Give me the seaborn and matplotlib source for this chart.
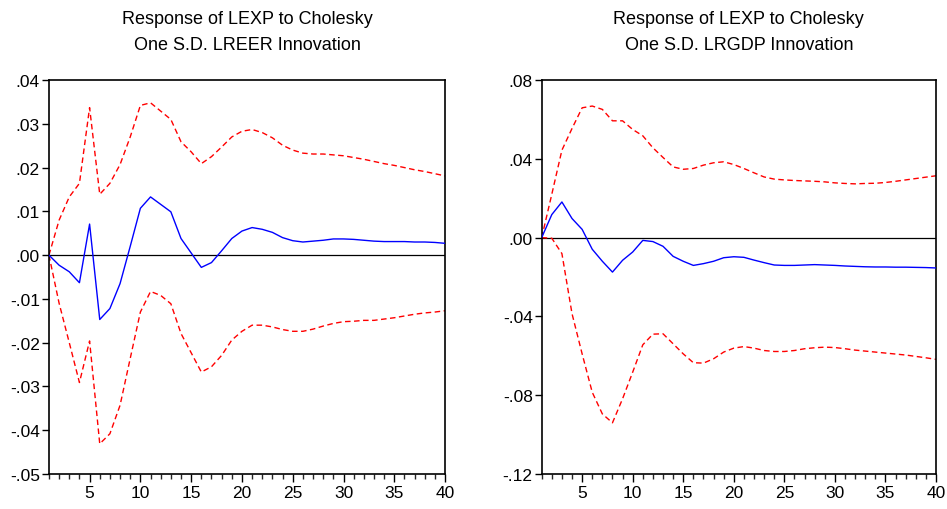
import numpy as np
import pandas as pd
import matplotlib
matplotlib.use("Agg")
import matplotlib.pyplot as plt
import seaborn as sns
from matplotlib.ticker import FuncFormatter, MultipleLocator, FixedLocator

sns.set_theme(style="white")
plt.rcParams['font.family'] = ['Liberation Sans Narrow', 'Liberation Sans', 'DejaVu Sans']

periods = list(range(1, 41))

# Left panel: LREER shock
lreer_resp = [0.0, -0.0023, -0.0038, -0.0063, 0.0071, -0.0147, -0.0122, -0.0065, 0.0020, 0.0107,
              0.0133, 0.0116, 0.0099, 0.0038, 0.0005, -0.0028, -0.0017, 0.0010, 0.0038, 0.0055,
              0.0063, 0.0059, 0.0052, 0.0040, 0.0033, 0.0030, 0.0032, 0.0034, 0.0037, 0.0037,
              0.0036, 0.0034, 0.0032, 0.0031, 0.0031, 0.0031, 0.0030, 0.0030, 0.0029, 0.0027]
lreer_upper = [0.0, 0.0080, 0.0133, 0.0164, 0.0337, 0.0139, 0.0164, 0.0207, 0.0270, 0.0342,
               0.0348, 0.0329, 0.0310, 0.0259, 0.0236, 0.0209, 0.0225, 0.0247, 0.0270, 0.0283,
               0.0287, 0.0280, 0.0268, 0.0251, 0.0240, 0.0233, 0.0231, 0.0231, 0.0229, 0.0227,
               0.0223, 0.0219, 0.0214, 0.0209, 0.0205, 0.0200, 0.0195, 0.0191, 0.0186, 0.0181]
lreer_lower = [0.0, -0.0110, -0.0200, -0.0291, -0.0196, -0.0431, -0.0408, -0.0343, -0.0236, -0.0130,
               -0.0083, -0.0092, -0.0111, -0.0179, -0.0223, -0.0267, -0.0255, -0.0229, -0.0194, -0.0174,
               -0.0160, -0.0160, -0.0164, -0.0170, -0.0174, -0.0174, -0.0169, -0.0162, -0.0156, -0.0152,
               -0.0151, -0.0149, -0.0149, -0.0146, -0.0143, -0.0139, -0.0135, -0.0132, -0.0130, -0.0127]

# Right panel: LRGDP shock
lrgdp_resp = [0.0, 0.0117, 0.0181, 0.0097, 0.0042, -0.0059, -0.0120, -0.0175, -0.0115, -0.0073,
              -0.0014, -0.0020, -0.0044, -0.0095, -0.0120, -0.0141, -0.0132, -0.0120, -0.0102, -0.0097,
              -0.0100, -0.0114, -0.0127, -0.0139, -0.0141, -0.0141, -0.0139, -0.0137, -0.0139, -0.0141,
              -0.0144, -0.0146, -0.0148, -0.0149, -0.0149, -0.0150, -0.0150, -0.0151, -0.0152, -0.0154]
lrgdp_upper = [0.0, 0.0220, 0.0444, 0.0554, 0.0659, 0.0668, 0.0651, 0.0593, 0.0593, 0.0549,
               0.0517, 0.0456, 0.0407, 0.0359, 0.0347, 0.0351, 0.0368, 0.0380, 0.0385, 0.0371,
               0.0351, 0.0329, 0.0308, 0.0297, 0.0293, 0.0290, 0.0288, 0.0286, 0.0283, 0.0278,
               0.0275, 0.0273, 0.0275, 0.0276, 0.0280, 0.0286, 0.0293, 0.0300, 0.0307, 0.0314]
lrgdp_lower = [0.0, -0.0003, -0.0081, -0.0386, -0.0590, -0.0785, -0.0895, -0.0940, -0.0818, -0.0683,
               -0.0544, -0.0490, -0.0488, -0.0539, -0.0590, -0.0635, -0.0637, -0.0615, -0.0581, -0.0561,
               -0.0553, -0.0561, -0.0573, -0.0578, -0.0578, -0.0573, -0.0564, -0.0559, -0.0556, -0.0558,
               -0.0564, -0.0571, -0.0576, -0.0581, -0.0586, -0.0591, -0.0596, -0.0603, -0.0610, -0.0618]

titles = ["Response of LEXP to Cholesky\nOne S.D. LREER Innovation",
          "Response of LEXP to Cholesky\nOne S.D. LRGDP Innovation"]
ylims = [(-0.05, 0.04), (-0.12, 0.08)]
ysteps = [0.01, 0.04]

panels = [(lreer_resp, lreer_upper, lreer_lower), (lrgdp_resp, lrgdp_upper, lrgdp_lower)]

fig = plt.figure(figsize=(9.47, 5.10), dpi=100)
axes_pos = [[0.0517, 0.0686, 0.4183, 0.7725], [0.5720, 0.0686, 0.4164, 0.7725]]


def fmt(v, pos):
    s = f"{v:.2f}"
    if s.startswith("-0"):
        s = "-" + s[2:]
    elif s.startswith("0"):
        s = s[1:]
    if s == "-.00":
        s = ".00"
    return s


for i, (resp, up, lo) in enumerate(panels):
    ax = fig.add_axes(axes_pos[i])
    df = pd.DataFrame({"period": periods, "resp": resp, "upper": up, "lower": lo})
    ax.axhline(0, color="black", lw=0.9, zorder=1)
    sns.lineplot(data=df, x="period", y="upper", ax=ax, color="#FF0000", lw=1.0,
                 linestyle=(0, (4, 2.5)), zorder=2)
    sns.lineplot(data=df, x="period", y="lower", ax=ax, color="#FF0000", lw=1.0,
                 linestyle=(0, (4, 2.5)), zorder=2)
    sns.lineplot(data=df, x="period", y="resp", ax=ax, color="#0000FF", lw=1.0, zorder=3)
    ax.set_xlim(1, 40)
    ax.set_ylim(*ylims[i])
    ax.set_xlabel("")
    ax.set_ylabel("")
    ax.xaxis.set_major_locator(FixedLocator([5, 10, 15, 20, 25, 30, 35, 40]))
    ax.xaxis.set_minor_locator(FixedLocator(list(range(1, 41))))
    ax.yaxis.set_major_locator(MultipleLocator(ysteps[i]))
    ax.yaxis.set_major_formatter(FuncFormatter(fmt))
    ax.tick_params(axis="x", which="major", direction="out", length=6, width=1,
                   labelsize=12.5, bottom=True, pad=2, colors="black")
    ax.tick_params(axis="x", which="minor", direction="out", length=3.5, width=1, bottom=True)
    ax.tick_params(axis="y", which="major", direction="out", length=5, width=1,
                   labelsize=12.5, left=True, pad=1.5, colors="black")
    for sp in ax.spines.values():
        sp.set_color("black")
        sp.set_linewidth(1.2)
    ax.set_title(titles[i], fontsize=13, color="black", pad=22.5, linespacing=1.65)

fig.savefig("out.png", dpi=100)
